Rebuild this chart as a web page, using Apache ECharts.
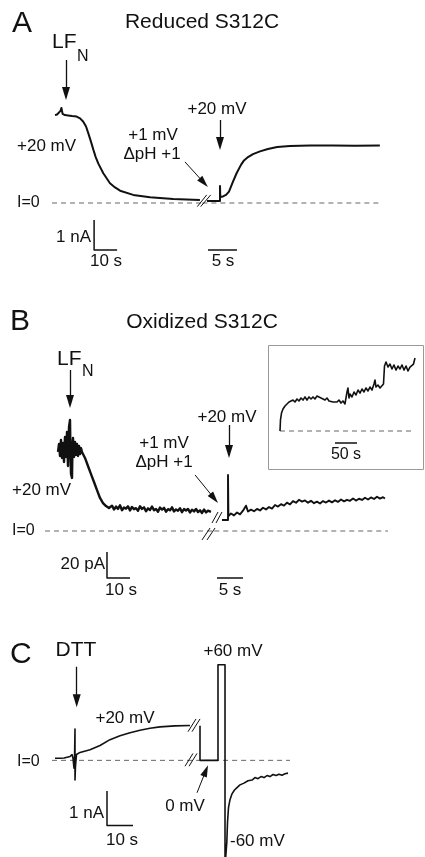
<!DOCTYPE html>
<html><head><meta charset="utf-8">
<script src="https://cdn.jsdelivr.net/npm/echarts@6/dist/echarts.min.js"></script>
<style>html,body{margin:0;padding:0;background:#fff}#c{width:425px;height:857px}</style>
</head><body><div id="c"></div>
<script>
// ---------------- DATA (time in s, current in nA or pA) ----------------
// Panel A, reduced S312C (nA)
const traceA1 = [[0,2.93],[0.9,2.95],[1.7,2.97],[2.4,3.07],[2.8,3.17],[3.3,2.97],[3.7,3.03],[4.3,2.93],[5.7,2.92],[7.4,2.9],[9.4,2.88],[10.9,2.82],[12.3,2.71],[13.5,2.55],[14.5,2.32],[15.7,2.03],[16.7,1.77],[17.7,1.53],[18.8,1.32],[21.0,0.99],[23.9,0.66],[26.1,0.52],[28.3,0.41],[34.0,0.27],[41.3,0.19],[51.4,0.13],[63.0,0.1]];
const traceA2 = [[0,0.07],[1.0,0.07],[2.24,0.07],[2.24,0.57],[2.29,0.2],[2.76,0.22],[3.28,0.27],[3.79,0.38],[4.48,0.71],[5.12,1.0],[5.86,1.27],[6.38,1.42],[7.07,1.53],[7.93,1.63],[9.14,1.72],[10.5,1.8],[12.1,1.87],[14.3,1.9],[17.8,1.92],[21.7,1.92],[25.5,1.91],[29.8,1.92]];
// Panel B, oxidized S312C (pA)
const traceB1 = [[0,60.8],[0.43,66.9],[0.87,57.7],[1.3,70],[1.74,56.2],[2.17,67.7],[2.61,53.1],[3.04,72.3],[3.48,56.9],[3.91,76.2],[4.35,50],[4.78,80],[5.22,85.4],[5.43,58.5],[5.65,43.8],[6.09,40.8],[6.3,66.2],[6.52,71.5],[6.96,56.9],[7.39,68.5],[7.83,58.5],[8.26,66.9],[8.7,57.7],[9.13,65.4],[9.57,59.2],[10.0,63.8],[10.43,60.8],[11.74,56.2],[13.04,50],[14.35,43.8],[15.65,37.7],[16.96,31.5],[18.26,25.4],[19.57,21.5],[20.87,19.2],[22.17,17.7],[23.48,19.5],[24.35,16.5],[25.22,18.8],[26.09,17.0],[26.96,19.8],[27.83,16.0],[28.7,18.0],[29.57,17.2],[30.43,19.0],[31.3,15.8],[32.17,18.5],[33.04,16.8],[33.91,17.6],[34.78,15.5],[35.65,19.0],[36.52,17.0],[37.39,18.2],[38.26,15.2],[39.13,17.4],[40,16.2],[40.87,18.8],[41.74,16.0],[42.61,17.0],[43.48,14.8],[44.35,18.0],[45.22,16.5],[46.09,17.8],[46.96,14.9],[47.83,16.8],[48.7,15.9],[49.57,18.2],[50.43,15.0],[51.3,16.6],[52.17,15.6],[53.04,17.5],[53.91,14.5],[54.78,16.9],[55.65,15.8],[56.52,17.0],[57.39,14.2],[58.26,16.4],[59.13,15.1],[60,17.0],[60.87,14.6],[61.74,15.9],[62.61,13.9],[63.48,16.5],[64.35,14.3],[65.22,15.6],[66.52,14.8]];
const traceB2 = [[0.38,8.5],[1.54,8.5],[1.54,43.1],[1.62,11.5],[2.12,13.5],[2.69,12.0],[3.27,14.2],[3.85,12.8],[4.42,15.6],[5.0,19.5],[5.38,15.0],[5.96,16.4],[6.54,15.2],[7.12,17.0],[7.69,15.8],[8.27,17.9],[8.85,16.6],[9.42,18.4],[10,17.2],[10.58,20.0],[11.15,18.8],[11.73,20.6],[12.31,19.5],[12.88,21.8],[13.46,20.4],[14.04,23.0],[14.62,21.7],[15.19,24.0],[15.77,22.6],[16.35,23.5],[16.92,21.8],[17.5,23.2],[18.08,21.4],[18.65,22.6],[19.23,21.2],[19.81,23.0],[20.38,21.9],[20.96,23.4],[21.54,22.0],[22.12,23.6],[22.69,22.4],[23.27,24.2],[23.85,22.8],[24.42,24.0],[25,23.2],[25.58,25.0],[26.15,23.4],[26.73,24.8],[27.31,23.9],[27.88,25.6],[28.46,24.2],[29.04,25.8],[29.62,24.6],[30.19,26.4],[30.77,24.9],[31.35,26.0],[31.73,25.0]];
// Panel B inset (long record, pA)
const traceInset = [[0,0],[1.1,8.5],[3.4,13.8],[6.8,16.9],[11.4,19.2],[15.9,20.8],[20.5,22.3],[25,21.5],[29.5,23.8],[34.1,22.3],[38.6,24.6],[43.2,23.1],[47.7,25.4],[52.3,23.8],[56.8,26.2],[61.4,23.8],[65.9,26.2],[70.5,24.6],[75,26.2],[79.5,24.6],[84.1,26.9],[88.6,27.7],[93.2,25.4],[97.7,26.2],[102.3,23.8],[106.8,25.4],[111.4,23.1],[115.9,24.6],[120.5,22.3],[125,23.8],[129.5,22.3],[134.1,23.8],[138.6,21.5],[143.2,23.1],[147.7,20.8],[150,22.3],[152.3,30],[154.5,33.1],[156.8,25.4],[159.1,28.5],[163.6,26.2],[168.2,30],[172.7,27.7],[177.3,31.5],[181.8,29.2],[186.4,32.3],[190.9,30],[195.5,33.1],[200,30.8],[204.5,33.8],[209.1,31.5],[213.6,36.2],[215.9,39.2],[218.2,33.8],[222.7,35.4],[227.3,33.1],[231.8,34.6],[235.2,36.2],[237.5,50],[240.9,53.1],[245.5,49.2],[250,51.5],[254.5,47.7],[259.1,50.8],[263.6,46.9],[268.2,50],[272.7,47.7],[277.3,50.8],[281.8,46.9],[286.4,50],[290.9,46.2],[295.5,49.2],[300,47.7],[303.4,51.5],[306.8,56.2]];
// Panel C, DTT (nA)
const traceC1 = [[0,0.06],[1.9,0.06],[3.5,0.07],[5.77,0.11],[6.54,0.17],[6.92,0.06],[7.31,-0.23],[7.5,0],[7.69,0.91],[7.69,-0.57],[7.88,-0.17],[8.27,0.17],[8.85,0.2],[9.62,0.23],[13.46,0.31],[17.31,0.43],[21.15,0.6],[25,0.71],[28.85,0.8],[32.69,0.87],[36.54,0.93],[40.38,0.97],[46.15,1.0],[51.92,1.01]];
const traceC2 = [[0,1.0],[0,0],[6.92,0],[6.92,2.77],[9.62,2.77],[9.62,-3.09],[10.19,-3.09],[10.31,-2.37],[10.58,-1.8],[10.96,-1.37],[11.54,-1.14],[12.31,-0.97],[13.27,-0.86],[14.23,-0.79],[15.38,-0.71],[16.92,-0.66],[18.46,-0.59],[20,-0.57],[21.15,-0.5],[22.31,-0.53],[23.46,-0.47],[24.62,-0.5],[25.77,-0.44],[26.92,-0.47],[28.08,-0.41],[29.23,-0.44],[30.38,-0.4],[31.54,-0.43],[32.69,-0.39],[33.85,-0.37]];
// I = 0 reference lines
const zeroA1 = [[-1.3,0],[64,0]], zeroA2 = [[-0.8,0],[29.8,0]];
const zeroB1 = [[-5.65,0],[68,0]], zeroB2 = [[-1.1,0],[32.3,0]], zeroInset = [[0,0],[306.8,0]];
const zeroC1 = [[-1.15,0],[54,0]], zeroC2 = [[-1.5,0],[34.6,0]];
// Scale bars (10 s / 5 s / 50 s, 1 nA / 20 pA)
const barA1 = [[17,-0.57],[17,-1.57],[27,-1.57]], barA2 = [[0.17,-1.57],[5.17,-1.57]];
const barB1 = [[21.3,-16.2],[21.3,-36.2],[31.3,-36.2]], barB2 = [[-0.58,-36.2],[4.42,-36.2]];
const barInset = [[125,-9.2],[175,-9.2]];
const barC1 = [[20,-0.886],[20,-1.886],[30,-1.886]];
// Axis-break marks
const breaksA2 = [[[-1.67,-0.12],[-0.05,0.27]],[[-1.09,-0.12],[0.64,0.27]]];
const breaksB2 = [[[-1.54,6.15],[-0.38,14.6]],[[-0.77,6.15],[0.38,14.6]],[[-3.46,-6.9],[-1.92,2.3]],[[-2.5,-6.9],[-0.96,2.3]]];
const breaksC2 = [[[-4.62,0.83],[-1.54,1.2]],[[-3.08,0.83],[0,1.2]],[[-5.77,-0.17],[-2.69,0.2]],[[-4.23,-0.17],[-1.15,0.2]]];
// Event arrows
const vArrowsA1 = [[[4.78,4.77],[4.78,3.65]]], dArrowsA1 = [[[56.5,1.37],[64.7,0.68]]];
const vArrowsA2 = [[[2.24,2.77],[2.24,1.98]]];
const vArrowsB1 = [[[5.22,123.8],[5.22,99.6]]], dArrowsB1 = [[[59.6,43.1],[67.9,25.1]]];
const vArrowsB2 = [[[1.73,81.5],[1.73,61.2]]];
const vArrowsC1 = [[[8.35,2.71],[8.35,1.73]]];
const dArrowsC2 = [[[-1.15,-0.94],[2.23,-0.3]]];

// ---------------- LAYOUT ----------------
const panels = [
  {x0:55,  sx:2.3,  xmin:-4,  xmax:68,  y0:203, sy:30,  ymin:-2.5, ymax:5.5},  // 0 A left
  {x0:207, sx:5.8,  xmin:-2,  xmax:31,  y0:203, sy:30,  ymin:-2.5, ymax:5.5},  // 1 A right
  {x0:58,  sx:2.3,  xmin:-6,  xmax:70,  y0:531, sy:1.3, ymin:-40,  ymax:150},  // 2 B left
  {x0:220, sx:5.2,  xmin:-4,  xmax:33,  y0:531, sy:1.3, ymin:-40,  ymax:150},  // 3 B right
  {x0:280, sx:0.44, xmin:-20, xmax:320, y0:431, sy:1.3, ymin:-25,  ymax:65},   // 4 B inset
  {x0:55,  sx:2.6,  xmin:-2,  xmax:56,  y0:762, sy:35,  ymin:-2.8, ymax:3.4},  // 5 C left
  {x0:200, sx:2.6,  xmin:-6,  xmax:36,  y0:762, sy:35,  ymin:-2.8, ymax:3.4}   // 6 C right
];
const INK = '#111';
const FONT = '"Liberation Sans", Arial, sans-serif';

const grids = panels.map(p => ({left:p.x0 + p.xmin*p.sx, width:(p.xmax-p.xmin)*p.sx, top:p.y0 - p.ymax*p.sy, height:(p.ymax-p.ymin)*p.sy, containLabel:false, show:false}));
const xAxes = panels.map((p,i) => ({type:'value', gridIndex:i, min:p.xmin, max:p.xmax, show:false}));
const yAxes = panels.map((p,i) => ({type:'value', gridIndex:i, min:p.ymin, max:p.ymax, show:false}));

const series = [];
function line(data, i, width, color, dash) {
  series.push({type:'line', xAxisIndex:i, yAxisIndex:i, data, symbol:'none', showSymbol:false, silent:true, animation:false,
    lineStyle:{width, color, type: dash || 'solid', join:'round'}, z: dash ? 2 : 3});
}
function segs(list, i, width, arrowSize) {
  series.push({type:'lines', coordinateSystem:'cartesian2d', xAxisIndex:i, yAxisIndex:i, silent:true, animation:false, z:4,
    polyline:false,
    symbol: arrowSize ? ['none','triangle'] : ['none','none'],
    symbolSize: arrowSize ? [0, arrowSize] : 0,
    lineStyle:{color:INK, width, opacity:1, curveness:0},
    itemStyle:{color:INK},
    data: list.map(c => ({coords:c}))});
}
const DASH = [5,4], DCOL = '#666';
// A
line(zeroA1,0,1,DCOL,DASH); line(zeroA2,1,1,DCOL,DASH);
line(traceA1,0,2,INK); line(traceA2,1,2,INK);
line(barA1,0,1.5,INK); line(barA2,1,1.5,INK);
segs(breaksA2,1,1); segs(vArrowsA1,0,1.3,[8,13]); segs(vArrowsA2,1,1.3,[8,13]); segs(dArrowsA1,0,1,[7,12]);
// B
line(zeroB1,2,1,DCOL,DASH); line(zeroB2,3,1,DCOL,DASH); line(zeroInset,4,1,DCOL,DASH);
line(traceB1,2,2.4,INK); line(traceB2,3,1.9,INK); line(traceInset,4,1.6,INK);
line(barB1,2,1.5,INK); line(barB2,3,1.5,INK); line(barInset,4,1.5,INK);
segs(breaksB2,3,1); segs(vArrowsB1,2,1.3,[8,13]); segs(vArrowsB2,3,1.3,[8,13]); segs(dArrowsB1,2,1,[7,12]);
// C
line(zeroC1,5,1,DCOL,DASH); line(zeroC2,6,1,DCOL,DASH);
line(traceC1,5,1.6,INK); line(traceC2,6,1.6,INK);
line(barC1,5,1.5,INK);
segs(breaksC2,6,1); segs(vArrowsC1,5,1.3,[8,13]); segs(dArrowsC2,6,1,[7,12]);

// ---------------- TEXT ----------------
const labels = [
  ['A',12,24,30,'left'], ['Reduced S312C',202,22,21,'center'], ['LF',52,42,21,'left'], ['N',77,57,16,'left'],
  ['+20 mV',17,146,17,'left'], ['+1 mV',153,135,17,'center'], ['ΔpH +1',152,154,17,'center'], ['+20 mV',217,109,17,'center'],
  ['I=0',17,203,16,'left'], ['1 nA',91,237,17,'right'], ['10 s',106,261,17,'center'], ['5 s',223,261,17,'center'],
  ['B',10,322,30,'left'], ['Oxidized S312C',202,322,21,'center'], ['LF',57,359,21,'left'], ['N',82,372,16,'left'],
  ['+20 mV',12,490,17,'left'], ['+1 mV',164,443,17,'center'], ['ΔpH +1',164,462,17,'center'], ['+20 mV',227,417,17,'center'],
  ['I=0',12,531,16,'left'], ['20 pA',105,564,17,'right'], ['10 s',121,590,17,'center'], ['5 s',230,590,17,'center'],
  ['50 s',346,455,16,'center'],
  ['C',10,655,30,'left'], ['DTT',76,650,21,'center'], ['+20 mV',125,718,17,'center'], ['+60 mV',233,651,17,'center'],
  ['0 mV',185,806,17,'center'], ['-60 mV',230,841,17,'left'], ['I=0',17,762,16,'left'], ['1 nA',104,813,17,'right'], ['10 s',122,840,17,'center']
];
const graphic = labels.map(l => ({type:'text', x:l[1], y:l[2], silent:true,
  style:{text:l[0], fill:'#111', font: l[3] + 'px ' + FONT, textAlign:l[4], textVerticalAlign:'middle'}}));
graphic.push({type:'rect', shape:{x:268.5, y:345.5, width:155, height:124}, silent:true, style:{fill:'none', stroke:'#999', lineWidth:1}});

const chart = echarts.init(document.getElementById('c'));
chart.setOption({animation:false, backgroundColor:'#fff', grid:grids, xAxis:xAxes, yAxis:yAxes, series, graphic});
</script>
</body></html>
